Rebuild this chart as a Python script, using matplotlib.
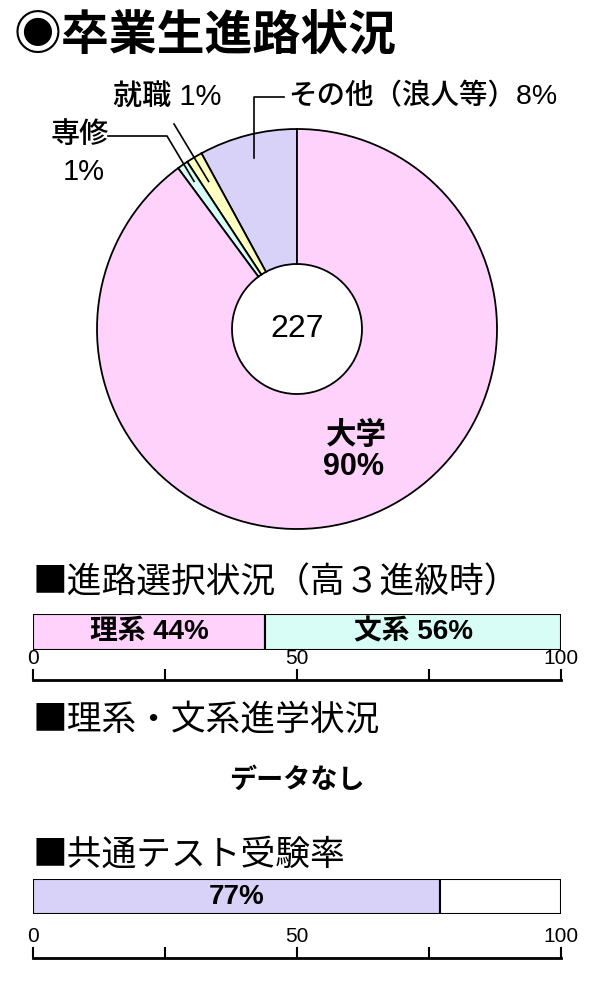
import numpy as np
import matplotlib
matplotlib.use("Agg")
import matplotlib.pyplot as plt

plt.rcParams['font.family'] = ['Noto Sans CJK JP', 'DejaVu Sans']
MIX = ['Liberation Sans', 'Noto Sans CJK JP', 'DejaVu Sans']

# data
pie_labels = ["その他（浪人等）", "就職", "専修", "大学"]
pie_counts = [18, 3, 2, 204]          # total 227
pie_pct = ["8%", "1%", "1%", "90%"]
pie_colors = ["#d8d2f8", "#ffffc2", "#d8fcf6", "#ffd2fc"]
total = sum(pie_counts)

course_labels = ["理系 44%", "文系 56%"]
course_values = [44, 56]
course_colors = ["#ffd2fc", "#d8fcf6"]

test_labels = ["77%", ""]
test_values = [77, 23]
test_colors = ["#d8d2f8", "#ffffff"]

axis_ticks = [0, 25, 50, 75, 100]
axis_ticklabels = ["0", "", "50", "", "100"]

W, H = 600, 1000
fig = plt.figure(figsize=(6, 10), dpi=100)


def fx(x):
    return x / W


def fy(y):
    return 1 - y / H


def box(x0, y0, x1, y1):
    # pixel box (top-left origin) -> figure rect
    return [fx(x0), fy(y1), (x1 - x0) / W, (y1 - y0) / H]


# title
fig.text(fx(14), fy(35), "◉卒業生進路状況", fontsize=34.5, fontweight="bold",
         ha="left", va="center")

# ---- donut chart ----
cx, cy, R = 297, 329, 200
ax = fig.add_axes(box(cx - R, cy - R, cx + R, cy + R))
hole = 0.325
wedges, _ = ax.pie(pie_counts, colors=pie_colors, startangle=90, counterclock=True,
                   radius=1, wedgeprops=dict(width=1 - hole, edgecolor="black", linewidth=1.3))
ax.set_xlim(-1, 1)
ax.set_ylim(-1, 1)
ax.set_aspect("equal")
ax.axis("off")
ax.text(0, 0, str(total), fontsize=23, ha="center", va="center", family=MIX)


def pdata(x, y):
    return (x - cx) / R, (cy - y) / R


def wedge_point(w, r):
    a = np.deg2rad((w.theta1 + w.theta2) / 2)
    return r * np.cos(a), r * np.sin(a)


# leader lines
e0 = wedge_point(wedges[0], 0.88)
p1 = pdata(258, 97)
p2 = pdata(284, 97)
ax.plot([e0[0], e0[0], p2[0]], [e0[1], p1[1], p2[1]], color="black", lw=1.2, clip_on=False)

e1 = wedge_point(wedges[1], 0.86)
s1 = pdata(174, 124)
ax.plot([s1[0], e1[0]], [s1[1], e1[1]], color="black", lw=1.2, clip_on=False)

e2 = wedge_point(wedges[2], 0.9)
s2a = pdata(108, 136)
s2b = pdata(167, 136)
ax.plot([s2a[0], s2b[0], e2[0]], [s2a[1], s2b[1], e2[1]], color="black", lw=1.2, clip_on=False)

lab_kw = dict(fontsize=21, fontweight="medium", family=MIX, va="center")
fig.text(fx(288), fy(97), pie_labels[0] + pie_pct[0], ha="left",
         **{**lab_kw, "fontsize": 20.5})
fig.text(fx(113), fy(97), pie_labels[1] + " " + pie_pct[1], ha="left", **lab_kw)
fig.text(fx(80), fy(135), pie_labels[2], ha="center", **lab_kw)
fig.text(fx(84), fy(172), pie_pct[2], ha="center", **lab_kw)
big_kw = dict(fontsize=22, fontweight="bold", family=MIX, ha="center", va="center")
fig.text(fx(356), fy(436), pie_labels[3], **big_kw)
fig.text(fx(354), fy(467), pie_pct[3], **big_kw)


# ---- stacked bars ----
def stacked_bar(y0, y1, values, colors, labels, axis_y):
    bx = fig.add_axes(box(33, y0, 561, y1))
    left = 0
    for v, c, lab in zip(values, colors, labels):
        bx.barh(0, v, left=left, height=1, color=c, edgecolor="black", linewidth=1.5)
        if lab:
            bx.text(left + v / 2, 0, lab, fontsize=20, fontweight="bold", family=MIX,
                    ha="center", va="center")
        left += v
    bx.set_xlim(0, 100)
    bx.set_ylim(-0.5, 0.5)
    bx.axis("off")

    sx = fig.add_axes(box(33, axis_y, 561, axis_y + 0.1))
    sx.set_xlim(0, 100)
    sx.set_yticks([])
    for s in ["left", "right", "bottom"]:
        sx.spines[s].set_visible(False)
    sx.spines["top"].set_linewidth(2)
    sx.patch.set_visible(False)
    sx.xaxis.tick_top()
    sx.set_xticks(axis_ticks)
    sx.set_xticklabels(axis_ticklabels, fontsize=15, family="Liberation Sans")
    sx.tick_params(axis="x", direction="out", length=8, width=1.5, pad=1)


head_kw = dict(fontsize=25, ha="left", va="center")
fig.text(fx(33), fy(583), "■進路選択状況（高３進級時）", **head_kw)
stacked_bar(614, 650, course_values, course_colors, course_labels, 680)

fig.text(fx(33), fy(720), "■理系・文系進学状況", **head_kw)
fig.text(fx(297), fy(780), "データなし", fontsize=19.5, fontweight="bold", ha="center", va="center")

fig.text(fx(33), fy(855), "■共通テスト受験率", **head_kw)
stacked_bar(879, 914, test_values, test_colors, test_labels, 958)

fig.savefig("out.png", dpi=100)
